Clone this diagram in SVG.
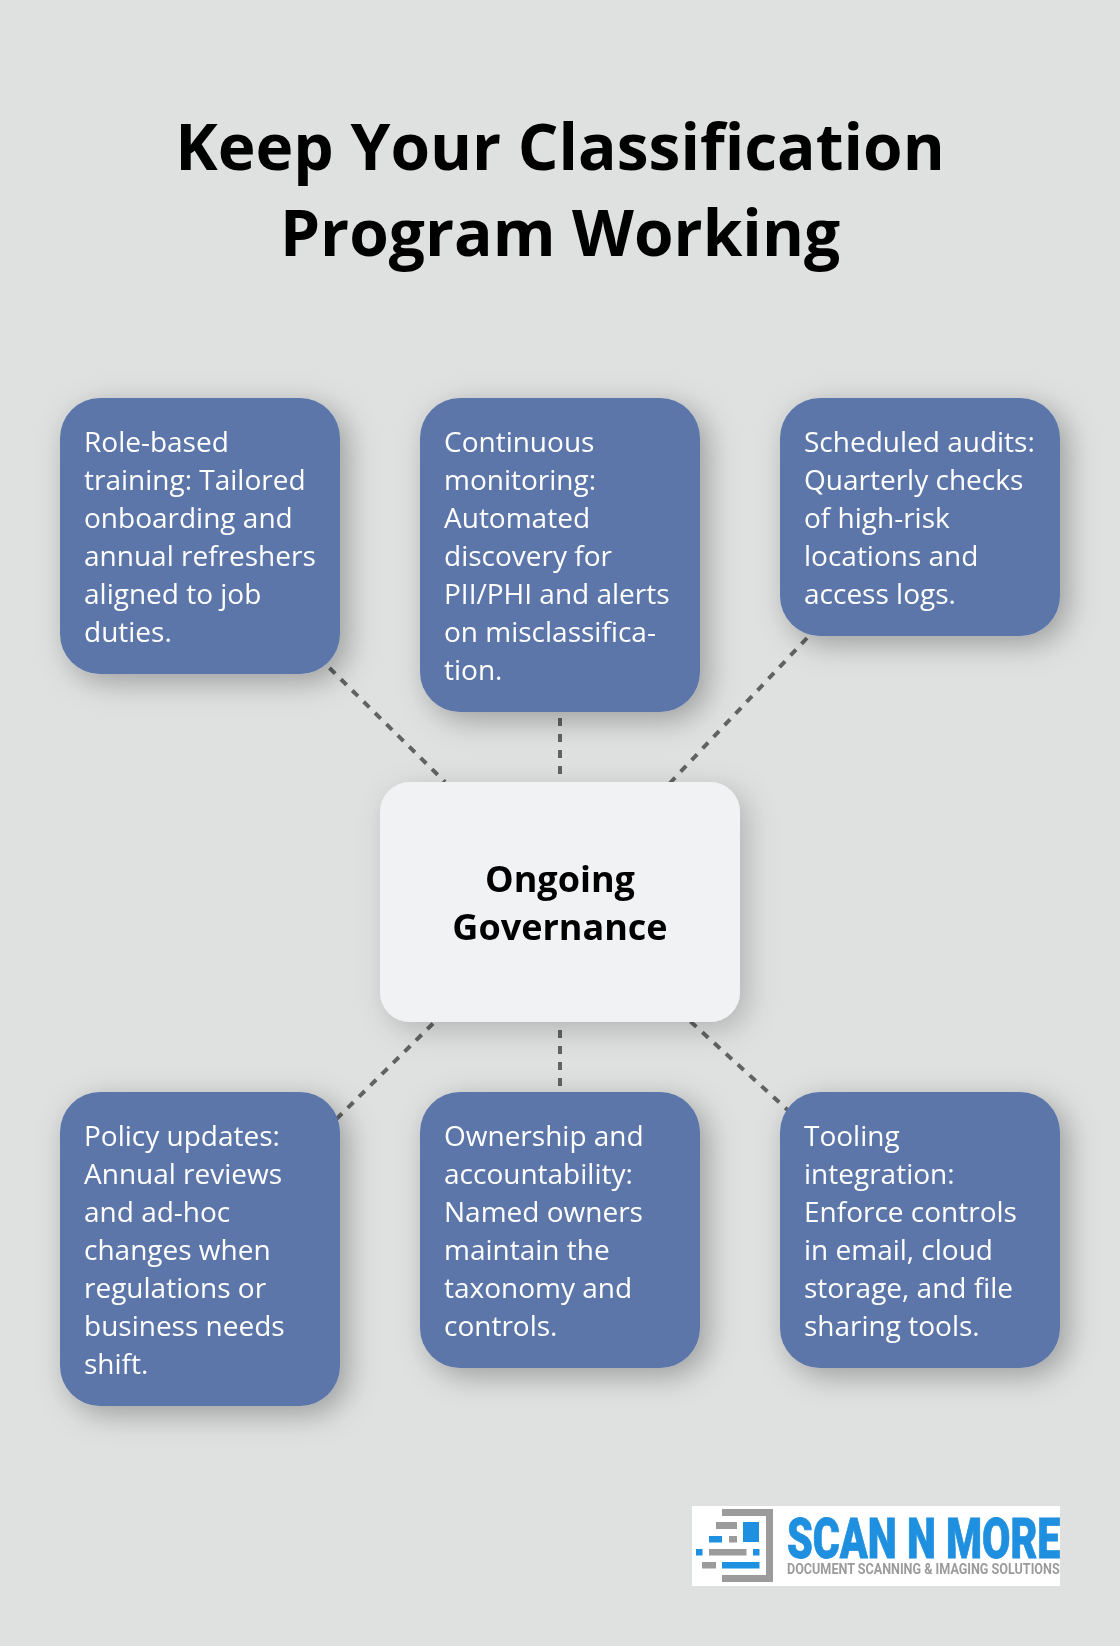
<svg xmlns="http://www.w3.org/2000/svg" width="1120" height="1646" viewBox="0 0 1120 1646">
<style>
text{font-family:"Open Sans","Noto Sans",sans-serif;opacity:.999}
.t{font-size:64px;font-weight:700;fill:#000;text-anchor:middle}
.b{fill:#5d76a9;filter:url(#s)}
.c{fill:#f0f2f4;filter:url(#s2)}
.l{font-size:28px;fill:#fff}
.h{font-size:36px;font-weight:700;fill:#000;text-anchor:middle}
.d{stroke:#626262;stroke-width:4;stroke-dasharray:8 8;fill:none}
.lb{fill:#1f8fdf}.lg{fill:#9b9b9b}
.m{font-family:Roboto,"Liberation Sans",sans-serif}
</style>
<defs><filter id="s" x="-30%" y="-30%" width="170%" height="170%"><feDropShadow dx="8" dy="8" stdDeviation="15" flood-color="#000" flood-opacity=".3"/></filter><filter id="s2" x="-30%" y="-30%" width="170%" height="170%"><feDropShadow dx="8" dy="8" stdDeviation="15" flood-color="#000" flood-opacity=".2"/></filter></defs>
<rect width="1120" height="1646" fill="#dfe1e0"/>
<g id="title"><text class="t" x="560" y="170">Keep Your Classification</text><text class="t" x="560" y="256">Program Working</text></g>
<g id="connectors">
<line class="d" x1="329.500" y1="668" x2="445" y2="782"/>
<line class="d" x1="560" y1="718" x2="560" y2="782"/>
<line class="d" x1="807" y1="638" x2="670" y2="783"/>
<line class="d" x1="433" y1="1023.500" x2="336" y2="1119.500"/>
<line class="d" x1="560" y1="1030" x2="560" y2="1092"/>
<line class="d" x1="690.500" y1="1021.500" x2="791" y2="1113"/>
</g>
<g id="n1"><rect class="b" x="60" y="398" width="280" height="276" rx="40"/><text class="l"><tspan x="84" y="452">Role-based</tspan><tspan x="84" y="490">training: Tailored</tspan><tspan x="84" y="528">onboarding and</tspan><tspan x="84" y="566">annual refreshers</tspan><tspan x="84" y="604">aligned to job</tspan><tspan x="84" y="642">duties.</tspan></text></g>
<g id="n2"><rect class="b" x="420" y="398" width="280" height="314" rx="40"/><text class="l"><tspan x="444" y="452">Continuous</tspan><tspan x="444" y="490">monitoring:</tspan><tspan x="444" y="528">Automated</tspan><tspan x="444" y="566">discovery for</tspan><tspan x="444" y="604">PII/PHI and alerts</tspan><tspan x="444" y="642">on misclassifica-</tspan><tspan x="444" y="680">tion.</tspan></text></g>
<g id="n3"><rect class="b" x="780" y="398" width="280" height="238" rx="40"/><text class="l"><tspan x="804" y="452">Scheduled audits:</tspan><tspan x="804" y="490">Quarterly checks</tspan><tspan x="804" y="528">of high-risk</tspan><tspan x="804" y="566">locations and</tspan><tspan x="804" y="604">access logs.</tspan></text></g>
<g id="center"><rect class="c" x="380" y="782" width="360" height="240" rx="30"/><text class="h"><tspan x="560" y="892">Ongoing</tspan><tspan x="560" y="940">Governance</tspan></text></g>
<g id="n4"><rect class="b" x="60" y="1092" width="280" height="314" rx="40"/><text class="l"><tspan x="84" y="1146">Policy updates:</tspan><tspan x="84" y="1184">Annual reviews</tspan><tspan x="84" y="1222">and ad-hoc</tspan><tspan x="84" y="1260">changes when</tspan><tspan x="84" y="1298">regulations or</tspan><tspan x="84" y="1336">business needs</tspan><tspan x="84" y="1374">shift.</tspan></text></g>
<g id="n5"><rect class="b" x="420" y="1092" width="280" height="276" rx="40"/><text class="l"><tspan x="444" y="1146">Ownership and</tspan><tspan x="444" y="1184">accountability:</tspan><tspan x="444" y="1222">Named owners</tspan><tspan x="444" y="1260">maintain the</tspan><tspan x="444" y="1298">taxonomy and</tspan><tspan x="444" y="1336">controls.</tspan></text></g>
<g id="n6"><rect class="b" x="780" y="1092" width="280" height="276" rx="40"/><text class="l"><tspan x="804" y="1146">Tooling</tspan><tspan x="804" y="1184">integration:</tspan><tspan x="804" y="1222">Enforce controls</tspan><tspan x="804" y="1260">in email, cloud</tspan><tspan x="804" y="1298">storage, and file</tspan><tspan x="804" y="1336">sharing tools.</tspan></text></g>
<g id="logo">
<rect x="692" y="1506" width="368" height="80" fill="#fff"/>
<path class="lg" d="M722 1509h51v73h-51v-7h44v-59h-44z"/>
<rect class="lg" x="716" y="1522" width="21" height="7"/>
<rect class="lb" x="743" y="1522" width="16" height="20"/>
<rect class="lb" x="709" y="1536" width="13" height="6.500"/>
<rect class="lg" x="729" y="1536" width="8" height="6.500"/>
<rect class="lb" x="696" y="1549" width="6.500" height="6.500"/>
<rect class="lg" x="709" y="1549" width="37.500" height="6.500"/>
<rect class="lb" x="753" y="1549" width="6.500" height="6.500"/>
<rect class="lg" x="702" y="1562" width="14" height="6.500"/>
<rect class="lb" x="722" y="1562" width="37.500" height="6.500"/>
<text class="lb m" transform="translate(787 1557.500) scale(.735 1)" font-size="56" font-weight="900" stroke="#1f8fdf" stroke-width=".8">SCAN N MORE</text>
<text class="lg m" transform="translate(787 1574) scale(.9 1)" font-size="14" font-weight="700">DOCUMENT SCANNING &amp; IMAGING SOLUTIONS</text>
</g>
</svg>
